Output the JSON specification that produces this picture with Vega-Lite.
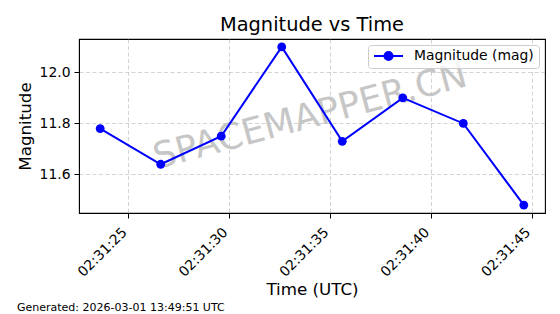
{
  "$schema": "https://vega.github.io/schema/vega-lite/v6.json",
  "autosize": "none",
  "width": 466,
  "height": 174,
  "padding": {"left": 79, "top": 39, "right": 15, "bottom": 101},
  "background": "white",
  "title": {"text": "Magnitude vs Time", "fontSize": 19.4, "fontWeight": "normal", "font": "DejaVu Sans", "color": "black", "anchor": "middle", "offset": 4},
  "config": {
    "font": "DejaVu Sans",
    "view": {"stroke": "black", "strokeWidth": 1.1},
    "axis": {
      "domainColor": "black", "tickColor": "black", "tickSize": 5, "tickWidth": 1,
      "labelColor": "black", "labelFontSize": 13.9, "labelFont": "DejaVu Sans",
      "titleFont": "DejaVu Sans", "titleFontSize": 16.7, "titleFontWeight": "normal", "titleColor": "black",
      "grid": true, "gridColor": "#b0b0b0", "gridOpacity": 0.7, "gridDash": [4, 2.5], "gridWidth": 0.8
    }
  },
  "datasets": {
    "obs": [
      {"time": "2026-03-01T02:31:23.600Z", "mag": 11.78},
      {"time": "2026-03-01T02:31:26.600Z", "mag": 11.64},
      {"time": "2026-03-01T02:31:29.600Z", "mag": 11.75},
      {"time": "2026-03-01T02:31:32.600Z", "mag": 12.10},
      {"time": "2026-03-01T02:31:35.600Z", "mag": 11.73},
      {"time": "2026-03-01T02:31:38.600Z", "mag": 11.90},
      {"time": "2026-03-01T02:31:41.600Z", "mag": 11.80},
      {"time": "2026-03-01T02:31:44.600Z", "mag": 11.48}
    ],
    "mark": [{"label": "SPACEMAPPER.CN"}],
    "foot": [{"label": "Generated: 2026-03-01 13:49:51 UTC"}]
  },
  "layer": [
    {
      "data": {"name": "mark"},
      "mark": {"type": "text", "fontSize": 36, "color": "#bdbdbd", "opacity": 0.85, "angle": 345, "align": "center", "baseline": "alphabetic", "font": "DejaVu Sans"},
      "encoding": {
        "x": {
          "datum": {"year": 2026, "month": 3, "date": 1, "hours": 2, "minutes": 31, "seconds": 34, "milliseconds": 150, "utc": true}, "type": "temporal", "title": "Time (UTC)",
          "scale": {"type": "utc", "nice": false, "domain": [
            {"year": 2026, "month": 3, "date": 1, "hours": 2, "minutes": 31, "seconds": 22, "milliseconds": 550, "utc": true},
            {"year": 2026, "month": 3, "date": 1, "hours": 2, "minutes": 31, "seconds": 45, "milliseconds": 650, "utc": true}
          ]},
          "axis": {
            "labelExpr": "utcFormat(datum.value, '%H:%M:%S')", "labelAngle": -45, "labelAlign": "right", "labelBaseline": "top",
            "labelPadding": 7, "labelOffset": -9, "labelOverlap": false, "labelFlush": false, "titlePadding": 3,
            "values": [
              {"year": 2026, "month": 3, "date": 1, "hours": 2, "minutes": 31, "seconds": 25, "utc": true},
              {"year": 2026, "month": 3, "date": 1, "hours": 2, "minutes": 31, "seconds": 30, "utc": true},
              {"year": 2026, "month": 3, "date": 1, "hours": 2, "minutes": 31, "seconds": 35, "utc": true},
              {"year": 2026, "month": 3, "date": 1, "hours": 2, "minutes": 31, "seconds": 40, "utc": true},
              {"year": 2026, "month": 3, "date": 1, "hours": 2, "minutes": 31, "seconds": 45, "utc": true}
            ]
          }
        },
        "y": {
          "datum": 11.785, "type": "quantitative", "title": "Magnitude",
          "scale": {"domain": [11.449, 12.131], "nice": false, "zero": false},
          "axis": {"values": [11.6, 11.8, 12.0], "format": ".1f", "labelPadding": 4, "titlePadding": 5}
        },
        "text": {"field": "label"}
      }
    },
    {
      "data": {"name": "obs"},
      "mark": {"type": "line", "strokeWidth": 2, "point": {"size": 78, "filled": true, "opacity": 1}},
      "encoding": {
        "x": {"field": "time", "type": "temporal", "title": "Time (UTC)"},
        "y": {"field": "mag", "type": "quantitative", "title": "Magnitude"},
        "color": {
          "datum": "Magnitude (mag)",
          "scale": {"range": ["#0000ff"]},
          "legend": {
            "title": null, "orient": "top-right", "offset": 6,
            "symbolType": "M-1,0L1,0M0.28,0A0.28,0.28,0,1,1,-0.28,0A0.28,0.28,0,1,1,0.28,0Z",
            "symbolSize": 841, "symbolStrokeWidth": 2, "symbolFillColor": "#0000ff", "symbolStrokeColor": "#0000ff",
            "clipHeight": 12,
            "labelFontSize": 13.9, "labelFont": "DejaVu Sans", "labelColor": "black", "labelOffset": 10,
            "fillColor": "rgba(255,255,255,0.8)", "strokeColor": "#cccccc", "cornerRadius": 3, "padding": 5
          }
        }
      }
    },
    {
      "data": {"name": "foot"},
      "mark": {"type": "text", "fontSize": 11, "color": "black", "align": "left", "baseline": "alphabetic", "font": "DejaVu Sans"},
      "encoding": {
        "x": {"datum": {"year": 2026, "month": 3, "date": 1, "hours": 2, "minutes": 31, "seconds": 19, "milliseconds": 476, "utc": true}, "type": "temporal"},
        "y": {"datum": 11.065, "type": "quantitative"},
        "text": {"field": "label"}
      }
    }
  ]
}
